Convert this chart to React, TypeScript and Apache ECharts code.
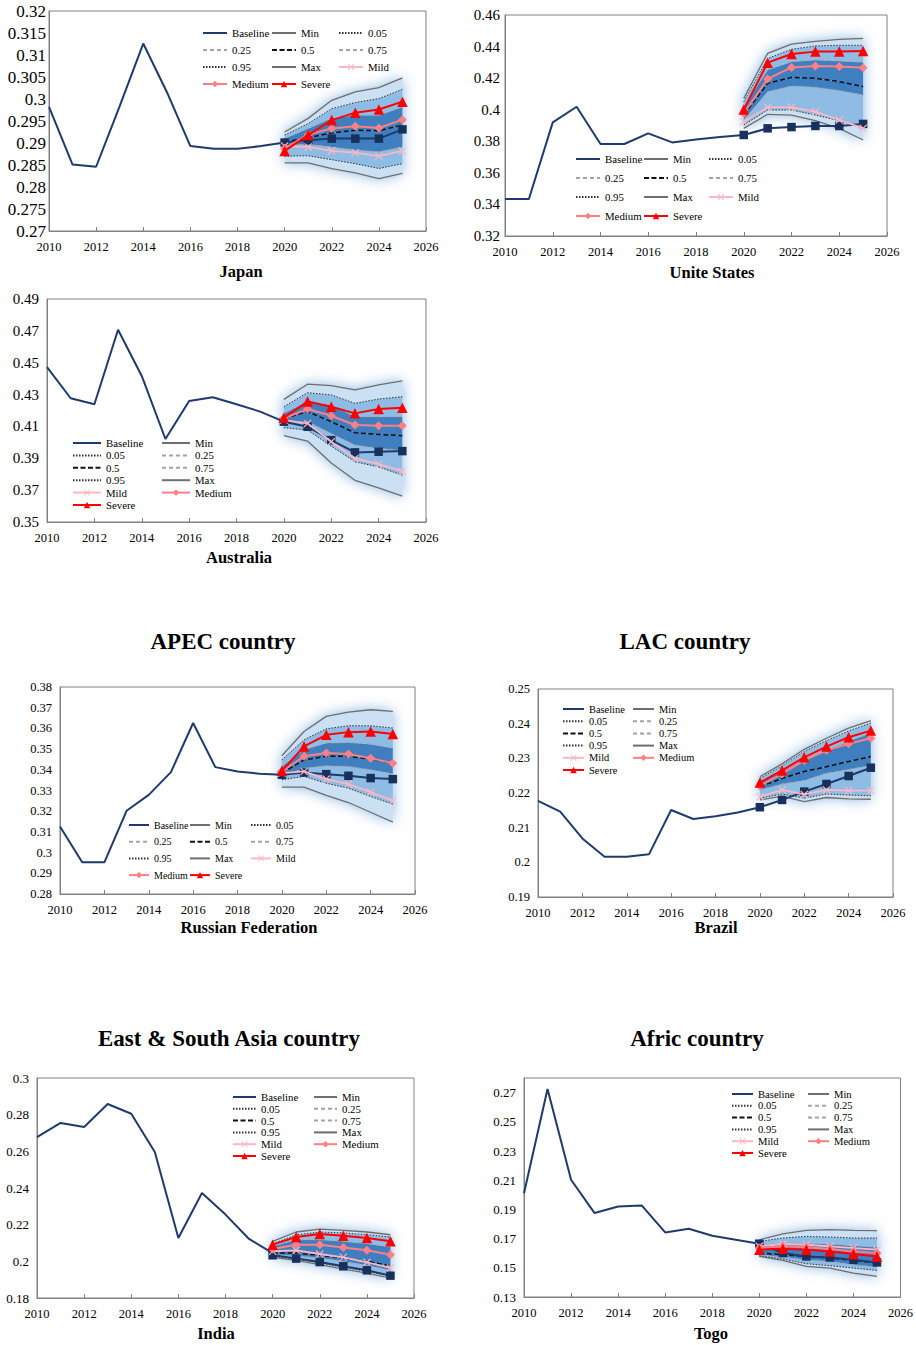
import React, { useEffect, useRef } from "react";
import * as echarts from "echarts";

// ---------- shared axes ----------
const histYears = [2010, 2011, 2012, 2013, 2014, 2015, 2016, 2017, 2018, 2019, 2020];
const projYears = [2020, 2021, 2022, 2023, 2024, 2025];

// ---------- Japan ----------
const japanBaseline = [0.2982, 0.2851, 0.2846, 0.2984, 0.3126, 0.3016, 0.2893, 0.2887, 0.2887, 0.2893, 0.2901];
const japanProjection = [0.2901, 0.2906, 0.291, 0.291, 0.291, 0.2931];
const japanMin = [0.2855, 0.2855, 0.2842, 0.2832, 0.2819, 0.2831];
const japanP05 = [0.287, 0.2871, 0.2862, 0.2853, 0.2842, 0.2853];
const japanP25 = [0.2895, 0.2897, 0.2891, 0.2884, 0.288, 0.2891];
const japanP50 = [0.2902, 0.2912, 0.2923, 0.2929, 0.2928, 0.2941];
const japanP75 = [0.291, 0.2933, 0.2956, 0.2963, 0.2963, 0.2982];
const japanP95 = [0.2918, 0.2944, 0.2978, 0.2992, 0.3001, 0.3022];
const japanMax = [0.2925, 0.2956, 0.2997, 0.3016, 0.3026, 0.3048];
const japanMild = [0.2893, 0.2891, 0.2882, 0.2878, 0.287, 0.2882];
const japanMedium = [0.2888, 0.2919, 0.2933, 0.2938, 0.2934, 0.2953];
const japanSevere = [0.2882, 0.2918, 0.2952, 0.2969, 0.2976, 0.2994];

// ---------- United States ----------
const usBaseline = [0.3434, 0.3434, 0.392, 0.4019, 0.3783, 0.3783, 0.385, 0.3793, 0.3812, 0.3827, 0.384];
const usProjection = [0.384, 0.3882, 0.389, 0.3897, 0.3897, 0.391];
const usMin = [0.3882, 0.3971, 0.3966, 0.3931, 0.3882, 0.3808];
const usP05 = [0.3903, 0.3998, 0.3998, 0.3966, 0.3931, 0.3882];
const usP25 = [0.3935, 0.4114, 0.415, 0.4142, 0.4121, 0.4093];
const usP50 = [0.3966, 0.4167, 0.4205, 0.4199, 0.4178, 0.4146];
const usP75 = [0.4019, 0.4252, 0.4304, 0.4315, 0.4309, 0.43];
const usP95 = [0.4051, 0.4325, 0.4383, 0.4404, 0.4408, 0.4408];
const usMax = [0.4072, 0.4357, 0.4416, 0.4433, 0.4446, 0.4452];
const usMild = [0.3924, 0.4015, 0.4015, 0.3988, 0.3935, 0.3882];
const usMedium = [0.3977, 0.4195, 0.4268, 0.4277, 0.4273, 0.4266];
const usSevere = [0.4002, 0.4298, 0.4353, 0.4368, 0.4368, 0.4372];

// ---------- Australia ----------
const auBaseline = [0.4472, 0.4277, 0.4239, 0.4707, 0.4417, 0.4021, 0.426, 0.4283, 0.4239, 0.4193, 0.413];
const auProjection = [0.413, 0.4098, 0.4014, 0.3937, 0.3941, 0.3945];
const auMin = [0.4042, 0.4008, 0.3871, 0.3762, 0.3714, 0.3662];
const auP05 = [0.4092, 0.4077, 0.3976, 0.3878, 0.3846, 0.3794];
const auP25 = [0.4119, 0.413, 0.4056, 0.3983, 0.3962, 0.3951];
const auP50 = [0.4151, 0.4193, 0.413, 0.406, 0.405, 0.4042];
const auP75 = [0.4182, 0.4256, 0.4235, 0.4161, 0.4161, 0.4161];
const auP95 = [0.4224, 0.4312, 0.4298, 0.4245, 0.4272, 0.4287];
const auMax = [0.427, 0.4365, 0.4356, 0.4329, 0.4361, 0.4386];
const auMild = [0.414, 0.4119, 0.4004, 0.3899, 0.3863, 0.3819];
const auMedium = [0.4151, 0.4209, 0.4167, 0.4109, 0.4104, 0.4104];
const auSevere = [0.4155, 0.4256, 0.4224, 0.4182, 0.4209, 0.4218];

// ---------- Russian Federation ----------
const ruBaseline = [0.3126, 0.2953, 0.2953, 0.3202, 0.3279, 0.3389, 0.3626, 0.3413, 0.3392, 0.3381, 0.3376];
const ruProjection = [0.3376, 0.3387, 0.3379, 0.3371, 0.336, 0.3355];
const ruMin = [0.3316, 0.3316, 0.3276, 0.3242, 0.3195, 0.3147];
const ruP05 = [0.3352, 0.3368, 0.3335, 0.3311, 0.3271, 0.3234];
const ruP25 = [0.3368, 0.3408, 0.3419, 0.3416, 0.34, 0.3381];
const ruP50 = [0.3384, 0.3448, 0.3465, 0.3465, 0.3452, 0.3432];
const ruP75 = [0.3416, 0.3497, 0.3529, 0.3532, 0.3524, 0.3505];
const ruP95 = [0.3448, 0.3545, 0.3598, 0.3613, 0.3613, 0.3602];
const ruMax = [0.3468, 0.3585, 0.3658, 0.3679, 0.369, 0.3682];
const ruMild = [0.3384, 0.3392, 0.3355, 0.3331, 0.3292, 0.325];
const ruMedium = [0.3392, 0.3465, 0.3481, 0.3476, 0.3456, 0.3432];
const ruSevere = [0.3395, 0.3513, 0.3569, 0.3582, 0.3585, 0.3573];

// ---------- Brazil ----------
const brBaseline = [0.2177, 0.2146, 0.2069, 0.2016, 0.2016, 0.2023, 0.2151, 0.2125, 0.2133, 0.2144, 0.2159];
const brProjection = [0.2159, 0.218, 0.2204, 0.2226, 0.2249, 0.2273];
const brMin = [0.218, 0.2191, 0.2175, 0.2187, 0.2183, 0.2182];
const brP05 = [0.2185, 0.2197, 0.2185, 0.2197, 0.2194, 0.2192];
const brP25 = [0.2209, 0.2226, 0.2236, 0.2257, 0.2268, 0.2279];
const brP50 = [0.2218, 0.2242, 0.2262, 0.2276, 0.2291, 0.2305];
const brP75 = [0.2233, 0.2262, 0.2296, 0.2322, 0.2349, 0.2373];
const brP95 = [0.2242, 0.2278, 0.232, 0.2351, 0.2379, 0.2402];
const brMax = [0.2247, 0.2284, 0.2326, 0.2358, 0.2387, 0.2409];
const brMild = [0.2189, 0.2209, 0.2196, 0.2209, 0.2207, 0.2207];
const brMedium = [0.2221, 0.2255, 0.2294, 0.2323, 0.2342, 0.2358];
const brSevere = [0.223, 0.2265, 0.2303, 0.2334, 0.2361, 0.238];

// ---------- India ----------
const inBaseline = [0.2678, 0.2755, 0.2733, 0.2858, 0.2805, 0.2596, 0.2127, 0.2373, 0.2255, 0.2122, 0.2045];
const inProjection = [0.2033, 0.2015, 0.1996, 0.1973, 0.1951, 0.1922];
const inMin = [0.2022, 0.2005, 0.1982, 0.1958, 0.1936, 0.1909];
const inP05 = [0.2027, 0.2013, 0.1991, 0.1967, 0.1945, 0.1918];
const inP25 = [0.2036, 0.2031, 0.2018, 0.2, 0.1978, 0.1951];
const inP50 = [0.2045, 0.2045, 0.2033, 0.2018, 0.2, 0.1976];
const inP75 = [0.2082, 0.2118, 0.2118, 0.2109, 0.2096, 0.2078];
const inP95 = [0.2096, 0.2145, 0.216, 0.2155, 0.2145, 0.2133];
const inMax = [0.2109, 0.216, 0.2176, 0.2169, 0.216, 0.2145];
const inMild = [0.2055, 0.206, 0.204, 0.2022, 0.1995, 0.1964];
const inMedium = [0.2067, 0.2091, 0.2091, 0.2076, 0.206, 0.2036];
const inSevere = [0.2091, 0.2133, 0.2149, 0.214, 0.2127, 0.2109];

// ---------- Togo ----------
const tgBaseline = [0.2011, 0.2725, 0.2103, 0.1875, 0.192, 0.1927, 0.1742, 0.1767, 0.172, 0.1692, 0.1665];
const tgProjection = [0.1665, 0.1601, 0.1578, 0.1571, 0.1555, 0.1537];
const tgMin = [0.1578, 0.1551, 0.151, 0.1498, 0.1464, 0.1441];
const tgP05 = [0.1583, 0.156, 0.1528, 0.1514, 0.1498, 0.1482];
const tgP25 = [0.159, 0.1574, 0.1555, 0.1544, 0.1521, 0.1505];
const tgP50 = [0.1601, 0.159, 0.1578, 0.1567, 0.1551, 0.1533];
const tgP75 = [0.1651, 0.1669, 0.1669, 0.1662, 0.1651, 0.1642];
const tgP95 = [0.1681, 0.1704, 0.1715, 0.1711, 0.1704, 0.1704];
const tgMax = [0.1692, 0.1733, 0.1756, 0.1761, 0.1756, 0.1754];
const tgMild = [0.1647, 0.1663, 0.1658, 0.1647, 0.1635, 0.1624];
const tgMedium = [0.1635, 0.1647, 0.164, 0.1628, 0.1612, 0.1601];
const tgSevere = [0.1624, 0.1631, 0.1624, 0.1612, 0.1594, 0.1578];

// ---------- titles / ticks ----------
const countryNames = ["Japan", "Unite States", "Australia", "Russian Federation", "Brazil", "India", "Togo"];
const groupTitles = ["APEC country", "LAC country", "East & South Asia country", "Afric country"];
const yRanges = [
  [0.27, 0.32, 0.005],
  [0.32, 0.46, 0.02],
  [0.35, 0.49, 0.02],
  [0.28, 0.38, 0.01],
  [0.19, 0.25, 0.01],
  [0.18, 0.3, 0.02],
  [0.13, 0.28, 0.02],
];
const xRange = [2010, 2026, 2];

const legendThree = [
  ["Baseline", "0.25", "0.95", "Medium"],
  ["Min", "0.5", "Max", "Severe"],
  ["0.05", "0.75", "Mild"],
];
const legendTwo = [
  ["Baseline", "0.05", "0.5", "0.95", "Mild", "Severe"],
  ["Min", "0.25", "0.75", "Max", "Medium"],
];
const lineOnlyNames = ["Baseline", "Min", "0.05", "0.25", "0.5", "0.75", "0.95", "Max"];

const countries = [
  { b: japanBaseline, p: japanProjection, min: japanMin, p05: japanP05, p25: japanP25, p50: japanP50, p75: japanP75, p95: japanP95, max: japanMax, mild: japanMild, medium: japanMedium, severe: japanSevere },
  { b: usBaseline, p: usProjection, min: usMin, p05: usP05, p25: usP25, p50: usP50, p75: usP75, p95: usP95, max: usMax, mild: usMild, medium: usMedium, severe: usSevere },
  { b: auBaseline, p: auProjection, min: auMin, p05: auP05, p25: auP25, p50: auP50, p75: auP75, p95: auP95, max: auMax, mild: auMild, medium: auMedium, severe: auSevere },
  { b: ruBaseline, p: ruProjection, min: ruMin, p05: ruP05, p25: ruP25, p50: ruP50, p75: ruP75, p95: ruP95, max: ruMax, mild: ruMild, medium: ruMedium, severe: ruSevere },
  { b: brBaseline, p: brProjection, min: brMin, p05: brP05, p25: brP25, p50: brP50, p75: brP75, p95: brP95, max: brMax, mild: brMild, medium: brMedium, severe: brSevere },
  { b: inBaseline, p: inProjection, min: inMin, p05: inP05, p25: inP25, p50: inP50, p75: inP75, p95: inP95, max: inMax, mild: inMild, medium: inMedium, severe: inSevere },
  { b: tgBaseline, p: tgProjection, min: tgMin, p05: tgP05, p25: tgP25, p50: tgP50, p75: tgP75, p95: tgP95, max: tgMax, mild: tgMild, medium: tgMedium, severe: tgSevere },
];

// ---------- layout (pixels) ----------
const layouts = [
  { grid: [49, 11, 377, 220], yFont: 17, yMargin: 3, title: [241, 271], leg: { cols: legendThree, lefts: [202, 271, 338], top: 27.5, gap: 6, iw: 24, fs: 10.8 } },
  { grid: [505, 15, 382, 221], yFont: 15, yMargin: 5, title: [712, 272], leg: { cols: legendThree, lefts: [575, 643, 708], top: 153.5, gap: 8, iw: 24, fs: 10.8 } },
  { grid: [47, 299, 379, 223], yFont: 15, yMargin: 8, title: [239, 557], leg: { cols: legendTwo, lefts: [72, 161], top: 437.5, gap: 1.4, iw: 28, fs: 10.8 } },
  { grid: [60, 687, 355, 207], yFont: 12.5, yMargin: 8, title: [249, 927], leg: { cols: legendThree, lefts: [128, 189, 250], top: 819.5, gap: 5.7, iw: 20, fs: 10 } },
  { grid: [538, 689, 355, 208], yFont: 12.5, yMargin: 8, title: [716, 927], leg: { cols: legendTwo, lefts: [562, 632], top: 703.5, gap: 1.2, iw: 21, fs: 10.4 } },
  { grid: [37, 1078, 377, 220], yFont: 13, yMargin: 8, title: [216, 1333], leg: { cols: legendTwo, lefts: [232, 313], top: 1091.5, gap: 0.8, iw: 23, fs: 10.8 } },
  { grid: [524, 1078, 377, 219], yFont: 13, yMargin: 8, title: [711, 1333], leg: { cols: legendTwo, lefts: [731, 807], top: 1088.5, gap: 0.8, iw: 21, fs: 10.6 } },
];
const groupTitlePos = [
  [223, 641],
  [685, 641],
  [229, 1038],
  [697, 1038],
];

const FONT = '"Liberation Serif", "Times New Roman", serif';
const NAVY = "#1f3a6d";
const X_SYMBOL = "path://M1,0 L5,4 L9,0 L10,1 L6,5 L10,9 L9,10 L5,6 L1,10 L0,9 L4,5 L0,1 Z";
const bandColors = ["#cbe0f3", "#8ebce4", "#3f7fc0"];

const pctStyles: Record<string, any> = {
  Min: { color: "#6e6e6e", width: 1.3, type: "solid" },
  "0.05": { color: "#303030", width: 1, type: [1.5, 1.5] },
  "0.25": { color: "#a3a3a3", width: 1, type: [4, 3] },
  "0.5": { color: "#111111", width: 1.5, type: [5, 2.5] },
  "0.75": { color: "#a3a3a3", width: 1, type: [4, 3] },
  "0.95": { color: "#303030", width: 1, type: [1.5, 1.5] },
  Max: { color: "#6e6e6e", width: 1.3, type: "solid" },
};

function pairs(xs: number[], ys: number[]) {
  return ys.map((v, k) => [xs[k], v]);
}

function buildOption() {
  const grid: any[] = [];
  const xAxis: any[] = [];
  const yAxis: any[] = [];
  const legend: any[] = [];
  const series: any[] = [];
  const graphic: any[] = [];

  countries.forEach((c, i) => {
    const L = layouts[i];
    const [gl, gt, gw, gh] = L.grid;
    grid.push({ left: gl, top: gt, width: gw, height: gh, show: true, borderColor: "#808080", borderWidth: 1, backgroundColor: "transparent" });
    xAxis.push({
      type: "value", gridIndex: i, min: xRange[0], max: xRange[1], interval: xRange[2],
      axisLine: { show: true, lineStyle: { color: "#808080", width: 1 } },
      axisTick: { show: true, inside: true, length: 4, lineStyle: { color: "#808080" } },
      axisLabel: { color: "#000", fontFamily: FONT, fontSize: 12.5, margin: 9, formatter: (v: number) => String(v) },
      splitLine: { show: false },
    });
    const [ymin, ymax, ystep] = yRanges[i];
    yAxis.push({
      type: "value", gridIndex: i, min: ymin, max: ymax, interval: ystep,
      axisLine: { show: true, lineStyle: { color: "#808080", width: 1 } },
      axisTick: { show: false },
      axisLabel: { color: "#000", fontFamily: FONT, fontSize: L.yFont, margin: L.yMargin, showMaxLabel: i === 6 ? false : true },
      splitLine: { show: false },
    });

    // fan (percentile bands)
    const bands = [
      [c.min, c.p05, bandColors[0]],
      [c.p05, c.p25, bandColors[1]],
      [c.p25, c.p50, bandColors[2]],
      [c.p50, c.p75, bandColors[2]],
      [c.p75, c.p95, bandColors[1]],
      [c.p95, c.max, bandColors[0]],
    ] as any[];
    series.push({
      type: "custom", name: "fan" + i, xAxisIndex: i, yAxisIndex: i, silent: true, z: 1,
      data: projYears.map((y, k) => [y, c.min[k], c.max[k]]),
      encode: { x: 0, y: [1, 2] },
      renderItem: (params: any, api: any) => {
        if (params.dataIndex !== 0) return null;
        const poly = (lo: number[], hi: number[]) => [
          ...hi.map((v: number, k: number) => api.coord([projYears[k], v])),
          ...lo.map((v: number, k: number) => api.coord([projYears[k], v])).reverse(),
        ];
        const glow = {
          type: "polygon",
          shape: { points: poly(c.min, c.max) },
          style: { fill: "#d6e7f6", shadowBlur: 14, shadowColor: "rgba(120,170,220,0.9)" },
        };
        return {
          type: "group",
          children: [glow, ...bands.map(([lo, hi, color]) => ({
            type: "polygon",
            shape: { points: poly(lo, hi) },
            style: { fill: color },
          }))],
        };
      },
    });

    // percentile lines
    const pct: [string, number[]][] = [
      ["Min", c.min], ["0.05", c.p05], ["0.25", c.p25], ["0.5", c.p50], ["0.75", c.p75], ["0.95", c.p95], ["Max", c.max],
    ];
    pct.forEach(([name, vals]) => {
      series.push({
        type: "line", name, xAxisIndex: i, yAxisIndex: i, z: 2, symbol: "none",
        data: pairs(projYears, vals), lineStyle: pctStyles[name], itemStyle: { color: pctStyles[name].color },
      });
    });

    // baseline history
    series.push({
      type: "line", name: "Baseline", xAxisIndex: i, yAxisIndex: i, z: 3, symbol: "none",
      data: pairs(histYears, c.b), lineStyle: { color: NAVY, width: 2 }, itemStyle: { color: NAVY },
    });
    // baseline projection (squares)
    series.push({
      type: "line", name: "Baseline projection", xAxisIndex: i, yAxisIndex: i, z: 3, symbol: "rect", symbolSize: 8.5,
      data: pairs(projYears, c.p), lineStyle: { color: NAVY, width: 2 }, itemStyle: { color: "#17305c" },
    });
    series.push({
      type: "line", name: "Mild", xAxisIndex: i, yAxisIndex: i, z: 4, symbol: X_SYMBOL, symbolSize: 8,
      data: pairs(projYears, c.mild), lineStyle: { color: "#ffb7c3", width: 1.8 }, itemStyle: { color: "#ffb7c3" },
    });
    series.push({
      type: "line", name: "Medium", xAxisIndex: i, yAxisIndex: i, z: 5, symbol: "diamond", symbolSize: 9,
      data: pairs(projYears, c.medium), lineStyle: { color: "#ff7f86", width: 2 }, itemStyle: { color: "#ff7f86" },
    });
    series.push({
      type: "line", name: "Severe", xAxisIndex: i, yAxisIndex: i, z: 6, symbol: "triangle", symbolSize: 10.5,
      data: pairs(projYears, c.severe), lineStyle: { color: "#ff0000", width: 2 }, itemStyle: { color: "#ff0000" },
    });

    // legends (one vertical legend per column)
    L.leg.cols.forEach((col: string[], ci: number) => {
      legend.push({
        orient: "vertical", left: L.leg.lefts[ci], top: L.leg.top, padding: 0,
        itemGap: L.leg.gap, itemWidth: L.leg.iw, itemHeight: 8, selectedMode: false,
        data: col.map((name) =>
          lineOnlyNames.indexOf(name) >= 0
            ? { name, itemStyle: { opacity: 0, color: "rgba(0,0,0,0)", borderWidth: 0 } }
            : { name }
        ),
        textStyle: { fontFamily: FONT, fontSize: L.leg.fs, lineHeight: 11, color: "#000" },
      });
    });

    graphic.push({
      type: "text", x: L.title[0], y: L.title[1],
      style: { text: countryNames[i], fontFamily: FONT, fontWeight: "bold", fontSize: 16.5, fill: "#000", textAlign: "center", textVerticalAlign: "middle" },
    });
  });

  groupTitles.forEach((t, k) => {
    graphic.push({
      type: "text", x: groupTitlePos[k][0], y: groupTitlePos[k][1],
      style: { text: t, fontFamily: FONT, fontWeight: "bold", fontSize: 23, fill: "#000", textAlign: "center", textVerticalAlign: "middle" },
    });
  });

  return { animation: false, backgroundColor: "#fff", grid, xAxis, yAxis, legend, series, graphic };
}

export default function App() {
  const ref = useRef<HTMLDivElement>(null);
  useEffect(() => {
    document.body.style.margin = "0";
    const chart = echarts.init(ref.current as HTMLDivElement, null, { renderer: "svg" });
    chart.setOption(buildOption() as any);
    return () => chart.dispose();
  }, []);
  return <div ref={ref} style={{ width: 916, height: 1345 }} />;
}
